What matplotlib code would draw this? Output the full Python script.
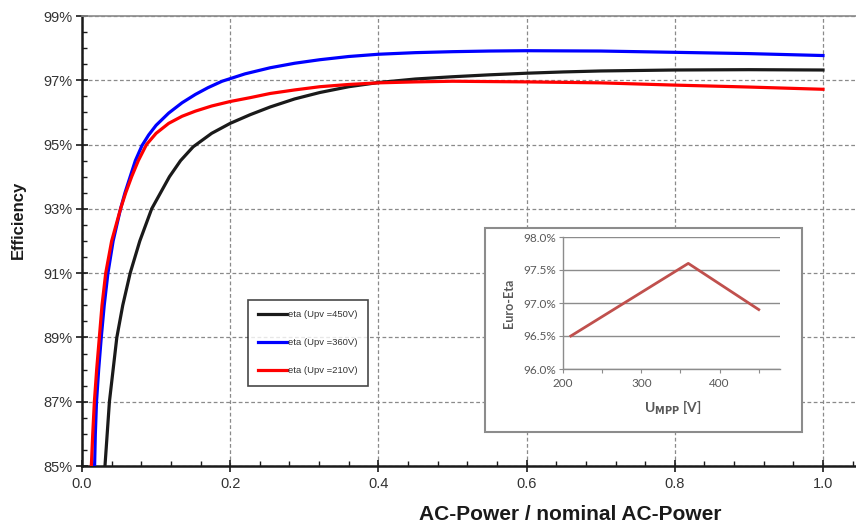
import matplotlib
matplotlib.use("Agg")
import matplotlib.pyplot as plt
from matplotlib.patches import Rectangle
from matplotlib.ticker import MultipleLocator, FixedLocator, FuncFormatter

# ---------------- data ----------------
x_450 = [0.031, 0.034, 0.037, 0.042, 0.047, 0.055, 0.065, 0.078, 0.094, 0.106,
         0.118, 0.133, 0.150, 0.175, 0.200, 0.227, 0.254, 0.287, 0.321, 0.360,
         0.400, 0.450, 0.500, 0.550, 0.600, 0.650, 0.700, 0.800, 0.900, 1.000]
y_450 = [85.0, 86.0, 87.0, 88.0, 89.0, 90.0, 91.0, 92.0, 93.0, 93.5,
         94.0, 94.5, 94.93, 95.35, 95.66, 95.93, 96.17, 96.42, 96.62, 96.80,
         96.93, 97.04, 97.11, 97.17, 97.22, 97.26, 97.29, 97.32, 97.33, 97.32]

x_360 = [0.017, 0.018, 0.0196, 0.0225, 0.026, 0.030, 0.035, 0.042, 0.052, 0.058,
         0.065, 0.072, 0.081, 0.090, 0.100, 0.117, 0.135, 0.153, 0.170, 0.189,
         0.220, 0.254, 0.287, 0.321, 0.360, 0.400, 0.450, 0.500, 0.550, 0.600,
         0.700, 0.800, 0.900, 1.000]
y_360 = [85.0, 86.0, 87.0, 88.0, 89.0, 90.0, 91.0, 92.0, 93.0, 93.5,
         94.0, 94.5, 94.97, 95.30, 95.60, 95.98, 96.30, 96.56, 96.77, 96.97,
         97.20, 97.39, 97.53, 97.64, 97.74, 97.81, 97.86, 97.89, 97.91, 97.92,
         97.91, 97.87, 97.83, 97.77]

x_210 = [0.0126, 0.0145, 0.0167, 0.0198, 0.0234, 0.027, 0.032, 0.040, 0.052, 0.059,
         0.067, 0.076, 0.087, 0.100, 0.117, 0.135, 0.153, 0.175, 0.200, 0.227,
         0.254, 0.287, 0.321, 0.360, 0.400, 0.450, 0.500, 0.600, 0.700, 0.800,
         0.900, 1.000]
y_210 = [85.0, 86.0, 87.0, 88.0, 89.0, 90.0, 91.0, 92.0, 93.0, 93.5,
         94.0, 94.5, 95.0, 95.35, 95.66, 95.88, 96.04, 96.20, 96.34, 96.46,
         96.59, 96.70, 96.80, 96.87, 96.92, 96.95, 96.97, 96.95, 96.92, 96.85,
         96.79, 96.72]

labels = ["eta (Upv =450V)", "eta (Upv =360V)", "eta (Upv =210V)"]
colors = ["#1a1a1a", "#0000ff", "#ff0000"]

y_major_ticks = [85, 87, 89, 91, 93, 95, 97, 99]

inset_u = [210, 360, 450]
inset_eta = [96.5, 97.6, 96.9]

# ---------------- figure ----------------
W, H = 856, 531
fig = plt.figure(figsize=(W / 100, H / 100), dpi=100)
plt.rcParams['font.family'] = ['Liberation Sans', 'DejaVu Sans']

def fx(px):
    return px / W

def fy(py):
    return 1 - py / H

ax = fig.add_axes([fx(82), fy(466), fx(856) - fx(82), fy(16) - fy(466)])
ax.set_xlim(0, (856 - 82) / (823 - 82))
ax.set_ylim(85, 99)

for xs, ys, c, lab in zip([x_450, x_360, x_210], [y_450, y_360, y_210], colors, labels):
    ax.plot(xs, ys, color=c, lw=2.3, label=lab, zorder=3, solid_joinstyle='round')

# ticks
ax.xaxis.set_major_locator(MultipleLocator(0.2))
ax.xaxis.set_minor_locator(MultipleLocator(0.04))
ax.yaxis.set_major_locator(FixedLocator(y_major_ticks))
ax.yaxis.set_minor_locator(MultipleLocator(0.5))
ax.xaxis.set_major_formatter(FuncFormatter(lambda v, p: f"{v:.1f}"))
ax.yaxis.set_major_formatter(FuncFormatter(lambda v, p: f"{v:.0f}%"))
ax.tick_params(axis='both', which='major', direction='inout', length=8, width=1.2,
               colors='#1a1a1a', labelcolor='#333333', labelsize=10.5)
ax.tick_params(axis='y', which='major', pad=3)
ax.tick_params(axis='x', which='major', pad=4)
ax.tick_params(axis='both', which='minor', direction='in', length=3.5, width=1.0, colors='#1a1a1a')

# grid
ax.grid(True, which='major', color='#8a8a8a', lw=0.9, ls=(0, (3, 2)), zorder=1)

for s in ['left', 'bottom']:
    ax.spines[s].set_linewidth(1.8)
    ax.spines[s].set_color('#1a1a1a')
ax.spines['top'].set_color('#8a8a8a')
ax.spines['top'].set_linewidth(1.2)
ax.spines['right'].set_visible(False)

ax.set_xlabel("AC-Power / nominal AC-Power", fontsize=15, fontweight='bold', color='#1a1a1a')
ax.xaxis.set_label_coords((570 - 82) / (856 - 82), -(515 - 466) / 450, transform=ax.transAxes)
ax.xaxis.label.set_verticalalignment('center')
ax.set_ylabel("Efficiency", fontsize=12, fontweight='bold', color='#1a1a1a')
ax.yaxis.set_label_coords(-(82 - 18) / (856 - 82), (466 - 220) / 450, transform=ax.transAxes)
ax.yaxis.label.set_verticalalignment('center')

leg = ax.legend(loc='upper left', bbox_to_anchor=(fx(248), fy(300)),
                bbox_transform=fig.transFigure, borderaxespad=0,
                fontsize=6.8, frameon=True, fancybox=False, edgecolor='#1a1a1a',
                handlelength=3.0, handletextpad=0.15, labelspacing=2.0,
                borderpad=1.1)
leg.get_frame().set_linewidth(1.2)
for t in leg.get_texts():
    t.set_color('#333333')

# ---------------- inset ----------------
box = Rectangle((fx(485), fy(432)), fx(802) - fx(485), fy(228) - fy(432),
                transform=fig.transFigure, facecolor='white', edgecolor='#8c8c8c',
                lw=1.5, zorder=5)
fig.patches.append(box)

ins = fig.add_axes([fx(563), fy(369), fx(780) - fx(563), fy(237) - fy(369)], zorder=6)
ins.patch.set_alpha(0)
ins.plot(inset_u, inset_eta, color='#c0504d', lw=2.0, zorder=3)
ins.set_xlim(200, 200 + (780 - 563) / 78.3 * 100)
ins.set_ylim(96.0, 98.0)
ins.xaxis.set_major_locator(MultipleLocator(100))
ins.xaxis.set_minor_locator(MultipleLocator(50))
ins.yaxis.set_major_locator(MultipleLocator(0.5))
ins.yaxis.set_major_formatter(FuncFormatter(lambda v, p: f"{v:.1f}%"))
ins.xaxis.set_major_formatter(FuncFormatter(lambda v, p: f"{v:.0f}"))
ins.grid(True, axis='y', color='#8c8c8c', lw=1.0, ls='-', zorder=1)
for s in ['top', 'right']:
    ins.spines[s].set_visible(False)
for s in ['left', 'bottom']:
    ins.spines[s].set_color('#8c8c8c')
    ins.spines[s].set_linewidth(1.0)
ins.tick_params(axis='both', which='both', direction='out', colors='#8c8c8c',
                labelcolor='#595959', labelsize=8.5, length=3, width=0.8)
ins.tick_params(axis='y', which='major', pad=2)
for t in ins.get_xticklabels() + ins.get_yticklabels():
    t.set_fontfamily(['Lato', 'DejaVu Sans'])
ins.set_ylabel("Euro-Eta", fontsize=9, fontweight='bold', color='#595959',
               fontfamily=['Lato', 'DejaVu Sans'])
ins.yaxis.set_label_coords(-(563 - 509) / (780 - 563), 0.5)
ins.yaxis.label.set_verticalalignment('center')
ins.set_xlabel(r"U$_{\mathbf{MPP}}$ [V]", fontsize=10, fontweight='bold', color='#595959',
               fontfamily=['Lato', 'DejaVu Sans'])
ins.xaxis.set_label_coords((673 - 563) / (780 - 563), -(408 - 369) / (369 - 237))
ins.xaxis.label.set_verticalalignment('center')

fig.savefig("out.png", dpi=100)
